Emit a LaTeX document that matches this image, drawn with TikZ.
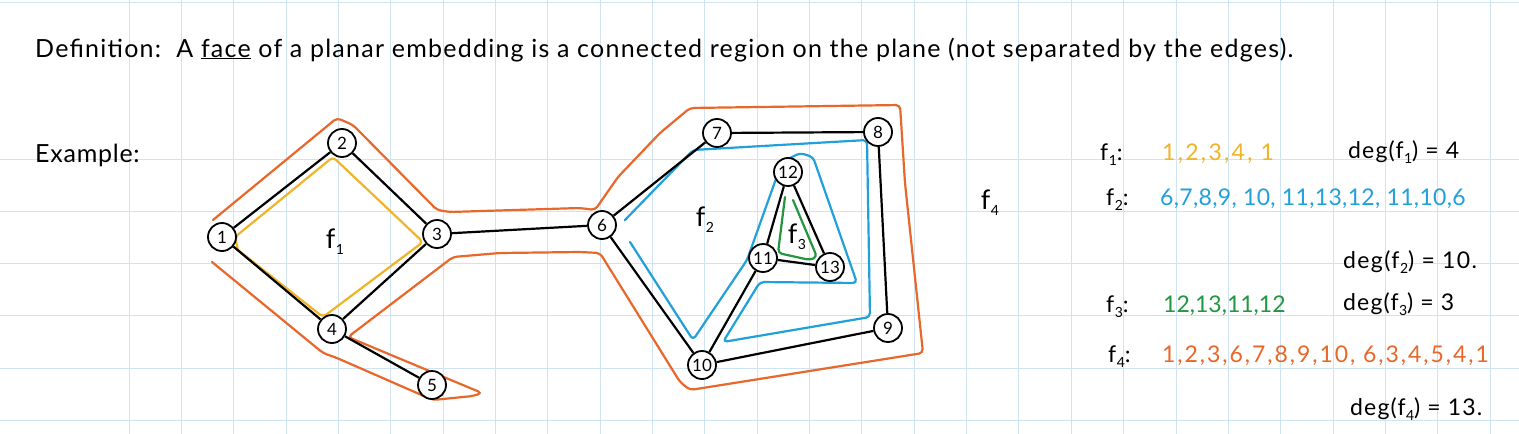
\documentclass[tikz,border=0pt]{standalone}
\usepackage{fontspec}
\setmainfont{Lato}
\definecolor{gridc}{HTML}{CFE4F2}
\definecolor{fyel}{HTML}{F0B429}
\definecolor{forg}{HTML}{E8672A}
\definecolor{fblu}{HTML}{22A0DA}
\definecolor{fgrn}{HTML}{23963F}
\newcommand{\fsub}[1]{f\kern0.5pt\raisebox{-0.45ex}{\fontsize{14}{14}\selectfont #1}}
\newcommand{\lsp}[1]{\addfontfeature{LetterSpace=#1}}
\begin{document}
\begin{tikzpicture}[x=1pt,y=-1pt,
  vtx/.style={circle,draw=black,line width=1.8pt,fill=white,minimum size=28pt,inner sep=0pt,font=\fontsize{17}{17}\selectfont},
  edgeline/.style={line width=2.2pt,black},
  facepath/.style={line width=2.2pt,line join=round,line cap=round,rounded corners=4pt},
  txt/.style={anchor=base west,inner sep=0pt,font=\fontsize{23}{23}\selectfont},
  flabel/.style={inner sep=0pt,font=\fontsize{27}{27}\selectfont}]
\useasboundingbox (0,0) rectangle (1519,434);
\fill[white] (0,0) rectangle (1519,434);
% grid
\foreach \k in {0,...,26} \draw[gridc,line width=1pt] ({129+52.35*\k},0) -- ({129+52.35*\k},434);
\draw[gridc,line width=1pt] (0,2) -- (1519,2);
\foreach \k in {0,...,5} \draw[gridc,line width=1pt] (0,{159+52.3*\k}) -- (1519,{159+52.3*\k});
% texts
\node[txt,font=\fontsize{25}{25}\selectfont] (def) at (35,57) {\lsp{5}Definition:\ \ A \underline{face} of a planar embedding is a connected region on the plane (not separated by the edges).};
\node[txt,font=\fontsize{25}{25}\selectfont] (ex) at (35,162) {\lsp{3}Example:};
% face outlines
\draw[facepath,fyel] (238,250) -- (235,237) -- (333,157) -- (423,242) -- (323,317) -- (238,250);
\draw[facepath,forg] (213,220) -- (337,118) -- (353,125) -- (437,210) -- (450,212) -- (580,208) -- (595,210) -- (618,177) -- (660,133) -- (690,108) -- (900,105) -- (905,183) -- (923,353) -- (690,390) -- (680,382) -- (600,253) -- (580,252) -- (500,253) -- (453,257) -- (348,337) -- (482,393) -- (473,396) -- (433,400) -- (337,358) -- (323,353) -- (212,262);
\draw[facepath,fblu] (630,242) -- (693,340) -- (747,260) -- (782,162) -- (800,153) -- (813,157) -- (857,283) -- (760,282) -- (723,342) -- (870,317) -- (867,140) -- (693,150) -- (625,220);
\draw[facepath,fgrn] (785,197) -- (778,253) -- (810,260) -- (817,257) -- (793,200);
% vertices
\node[vtx] (n1) at (222,237) {1};
\node[vtx] (n2) at (342,143) {2};
\node[vtx] (n3) at (437,234) {3};
\node[vtx] (n4) at (332,329) {4};
\node[vtx] (n5) at (432,385) {5};
\node[vtx] (n6) at (602,225) {6};
\node[vtx] (n7) at (717,133) {7};
\node[vtx] (n8) at (878,132) {8};
\node[vtx] (n9) at (888,328) {9};
\node[vtx] (n10) at (702,365) {10};
\node[vtx] (n11) at (763,258) {11};
\node[vtx] (n12) at (788,172) {12};
\node[vtx] (n13) at (830,267) {13};
\foreach \a/\b in {n1/n2,n2/n3,n3/n4,n4/n1,n4/n5,n3/n6,n6/n7,n7/n8,n8/n9,n9/n10,n10/n6,n10/n11,n11/n12,n12/n13,n13/n11}
  \draw[edgeline] (\a) -- (\b);
% face labels
\node[flabel] (lf1) at (335,242) {\fsub{1}};
\node[flabel] (lf2) at (705,220) {\fsub{2}};
\node[flabel] (lf3) at (797,237) {\fsub{3}};
\node[flabel] (lf4) at (990,203) {\fsub{4}};
% right column
\node[txt] (r1) at (1100,160) {\fsub{1}:};
\node[txt,text=fyel] (r1s) at (1162,160) {\lsp{10}1,2,3,4, 1};
\node[txt] (d1) at (1348,158) {\lsp{5}deg(\fsub{1}) = 4};
\node[txt] (r2) at (1106,205) {\fsub{2}:};
\node[txt,text=fblu] (r2s) at (1160,205) {\lsp{1.5}6,7,8,9, 10, 11,13,12, 11,10,6};
\node[txt] (d2) at (1343,268) {\lsp{6}deg(\fsub{2}) = 10.};
\node[txt] (r3) at (1106,312) {\fsub{3}:};
\node[txt,text=fgrn] (r3s) at (1163,312) {12,13,11,12};
\node[txt] (d3) at (1343,310) {\lsp{5}deg(\fsub{3}) = 3};
\node[txt] (r4) at (1108,362) {\fsub{4}:};
\node[txt,text=forg] (r4s) at (1162,362) {\lsp{8.5}1,2,3,6,7,8,9,10, 6,3,4,5,4,1};
\node[txt] (d4) at (1350,415) {\lsp{5}deg(\fsub{4}) = 13.};
\end{tikzpicture}
\end{document}
